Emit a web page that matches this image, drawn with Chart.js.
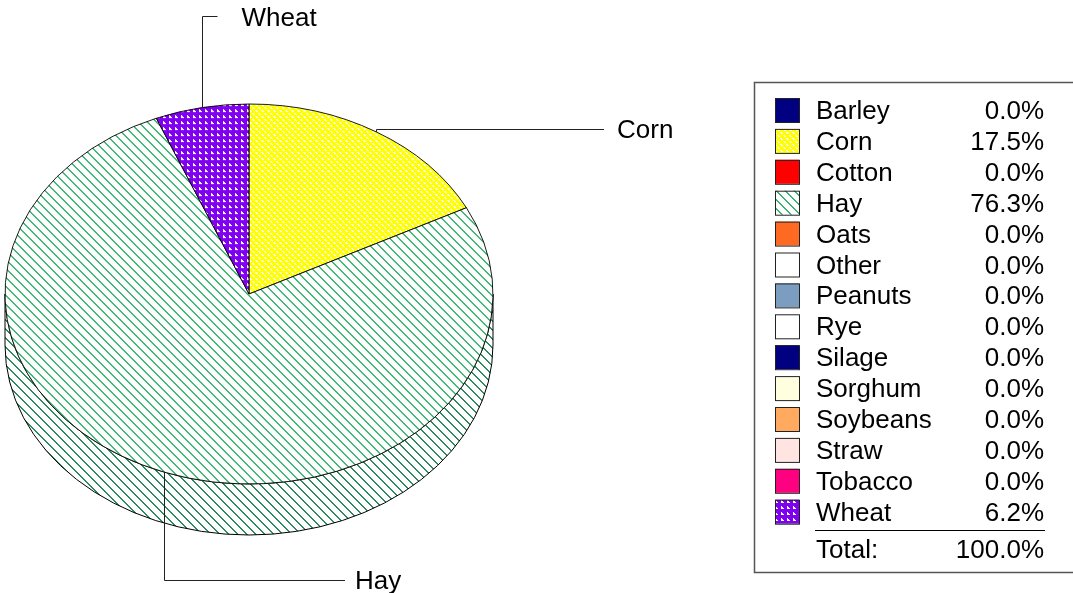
<!DOCTYPE html>
<html>
<head>
<meta charset="utf-8">
<script src="https://cdn.jsdelivr.net/npm/chart.js"></script>
<style>
  html, body { margin: 0; padding: 0; background: #fff; }
  #chart-crops { display: block; }
</style>
</head>
<body>
<canvas id="chart-crops" width="1073" height="593"></canvas>
<script>
// data
const categories = ['Barley', 'Corn', 'Cotton', 'Hay', 'Oats', 'Other', 'Peanuts', 'Rye',
  'Silage', 'Sorghum', 'Soybeans', 'Straw', 'Tobacco', 'Wheat'];
const percentValues = [0.0, 17.5, 0.0, 76.3, 0.0, 0.0, 0.0, 0.0, 0.0, 0.0, 0.0, 0.0, 0.0, 6.2];
const sliceColors = ['#000080', 'corn', '#ff0000', 'hay', '#ff6a22', '#ffffff', '#7b9dc0', '#ffffff',
  '#000080', '#ffffe0', '#ffaa5e', '#ffe4e1', '#ff0080', 'wheat'];

const TILT = 190 / 244;
const DEPTH = 51;
const FONT = '26px "Liberation Sans", Arial, sans-serif';

// little pixel tiles for the hatched slices
function makeTile(kind, dark) {
	const c = document.createElement('canvas');
	const g = c.getContext('2d');
	if (kind == 'hay') {
		const n = 9;
		c.width = n; c.height = n;
		g.fillStyle = '#fff'; g.fillRect(0, 0, n, n);
		g.fillStyle = dark ? '#2e8a5f' : '#3cb371';
		for (let i = 0; i < n; i++) {
			g.fillRect(i, i, 1, 1);
			g.fillRect((i + 1) % n, i, 1, 1);
		}
	} else if (kind == 'corn') {
		c.width = 6; c.height = 6;
		g.fillStyle = '#ffff00'; g.fillRect(0, 0, 6, 6);
		g.fillStyle = '#fff';
		const w = [[0,0],[1,0],[1,1],[2,1],[3,3],[4,3],[4,4],[5,4]];
		w.forEach(p => g.fillRect(p[0], p[1], 1, 1));
	} else {
		c.width = 6; c.height = 6;
		g.fillStyle = dark ? '#6a00c8' : '#8000f0'; g.fillRect(0, 0, 6, 6);
		g.fillStyle = '#fff';
		for (let r = 2; r < 5; r++) g.fillRect(1, r, r - 1, 1);
	}
	return c;
}

function makeFill(col, mode) {
	if (col[0] == '#') return col;
	const ctx = document.getElementById('chart-crops').getContext('2d');
	const p = ctx.createPattern(makeTile(col, mode == 'side'), 'repeat');
	if (mode == 'face') p.setTransform(new DOMMatrix([1, 0, 0, 1 / TILT, 0, 0]));
	return p;
}

const faceFills = sliceColors.map(c => makeFill(c, 'face'));
const sideFills = sliceColors.map(c => makeFill(c, 'side'));
const flatFills = sliceColors.map(c => makeFill(c, 'flat'));

// tilted pie: draw the rim first, then squash the top face
const pie3d = {
	id: 'pie3d',
	beforeDatasetsDraw(chart) {
		const ctx = chart.ctx;
		const arcs = chart.getDatasetMeta(0).data;
		const cx = arcs[0].x, cy = arcs[0].y;
		const rx = arcs[0].outerRadius, ry = rx * TILT;
		arcs.forEach((a, i) => {
			const s = Math.max(a.startAngle, 0), e = Math.min(a.endAngle, Math.PI);
			if (e <= s) return;
			ctx.save();
			ctx.beginPath();
			ctx.ellipse(cx, cy + DEPTH, rx, ry, 0, s, e);
			ctx.ellipse(cx, cy, rx, ry, 0, e, s, true);
			ctx.closePath();
			ctx.fillStyle = sideFills[i];
			ctx.fill();
			ctx.strokeStyle = '#000';
			ctx.lineWidth = 1;
			ctx.stroke();
			ctx.restore();
		});
		ctx.save();
		ctx.translate(cx, cy);
		ctx.scale(1, TILT);
		ctx.translate(-cx, -cy);
	},
	afterDatasetsDraw(chart) {
		chart.ctx.restore();
	}
};

// leader lines + labels, and the legend box
const extras = {
	id: 'extras',
	afterDraw(chart) {
		const ctx = chart.ctx;
		const arcs = chart.getDatasetMeta(0).data;
		const cx = arcs[0].x, cy = arcs[0].y;
		const rx = arcs[0].outerRadius, ry = rx * TILT;
		ctx.save();
		ctx.font = FONT;
		ctx.fillStyle = '#000';
		ctx.strokeStyle = '#222';
		ctx.lineWidth = 1;
		arcs.forEach((a, i) => {
			if (!(percentValues[i] > 0)) return;
			const m = (a.startAngle + a.endAngle) / 2;
			const px = Math.round(cx + rx * Math.cos(m)) + 0.5;
			const py = cy + ry * Math.sin(m);
			ctx.beginPath();
			let tx, ty;
			if (Math.sin(m) > 0) {
				// bottom: down then right
				ctx.moveTo(px, py); ctx.lineTo(px, 580.5); ctx.lineTo(345, 580.5);
				tx = 355; ty = 580;
			} else if (Math.cos(m) > 0.3) {
				// right side
				ctx.moveTo(px, py); ctx.lineTo(px, 129.5); ctx.lineTo(604, 129.5);
				tx = 617; ty = 129;
			} else {
				// top: up then right
				ctx.moveTo(px, py); ctx.lineTo(px, 16.5); ctx.lineTo(px + 15, 16.5);
				tx = px + 39; ty = 17;
			}
			ctx.stroke();
			ctx.fillText(categories[i], tx, ty + 9);
		});

		// legend
		ctx.strokeStyle = '#555';
		ctx.lineWidth = 1.5;
		ctx.strokeRect(754.5, 82.5, 360, 490);
		const total = percentValues.reduce((s, v) => s + v, 0);
		categories.forEach((name, i) => {
			const yc = 110 + i * 30.9;
			ctx.fillStyle = flatFills[i];
			ctx.fillRect(775, yc - 12, 24, 24);
			ctx.strokeStyle = '#222';
			ctx.lineWidth = 1;
			ctx.strokeRect(775.5, yc - 11.5, 24, 24);
			ctx.fillStyle = '#000';
			ctx.textAlign = 'left';
			ctx.fillText(name, 816, yc + 9);
			ctx.textAlign = 'right';
			ctx.fillText(percentValues[i].toFixed(1) + '%', 1044, yc + 9);
		});
		ctx.strokeStyle = '#000';
		ctx.beginPath();
		ctx.moveTo(815, 530.5); ctx.lineTo(1045, 530.5);
		ctx.stroke();
		ctx.textAlign = 'left';
		ctx.fillText('Total:', 816, 558);
		ctx.textAlign = 'right';
		ctx.fillText(total.toFixed(1) + '%', 1044, 558);
		ctx.restore();
	}
};

const configChartCrops = {
	type: 'pie',
	data: {
		labels: categories,
		datasets: [{
			data: percentValues,
			backgroundColor: faceFills,
			borderColor: '#000',
			borderWidth: 1
		}]
	},
	options: {
		responsive: false,
		animation: false,
		devicePixelRatio: 1,
		radius: 244,
		layout: {
			padding: { left: 5, top: 50, right: 580, bottom: 55 }
		},
		plugins: {
			legend: { display: false },
			tooltip: { enabled: false }
		}
	},
	plugins: [pie3d, extras]
};

const ctx = document.getElementById('chart-crops').getContext('2d');
window.chartCrops = new Chart(ctx, configChartCrops);
</script>
</body>
</html>
